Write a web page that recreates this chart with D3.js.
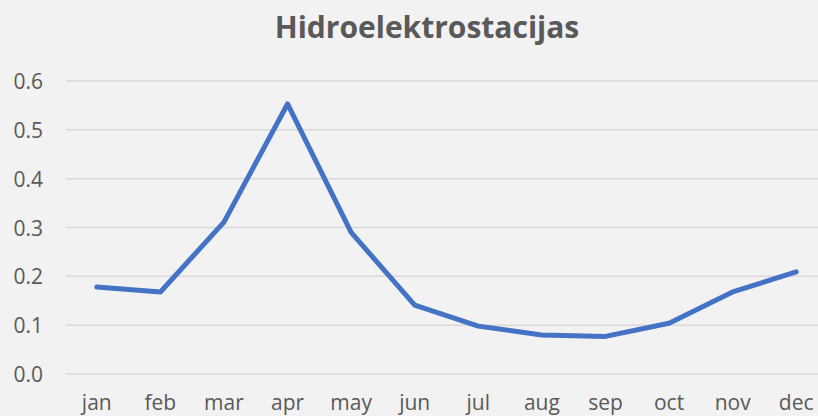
<!DOCTYPE html>
<html>
<head>
  <meta charset="utf-8">
  <script src="https://d3js.org/d3.v7.min.js"></script>
  <style>
    html, body { margin: 0; padding: 0; background: #f2f2f2; }
    svg { display: block; }
  </style>
</head>
<body>
  <script>
    // data
    var months = ["jan", "feb", "mar", "apr", "may", "jun", "jul", "aug", "sep", "oct", "nov", "dec"];
    var values = [0.178, 0.168, 0.311, 0.553, 0.290, 0.141, 0.098, 0.080, 0.077, 0.104, 0.168, 0.209];
    var yTicks = [0, 0.1, 0.2, 0.3, 0.4, 0.5, 0.6];
    var title = "Hidroelektrostacijas";

    var W = 818, H = 416;
    var svg = d3.select("body").append("svg")
      .attr("width", W).attr("height", H);

    svg.append("rect").attr("width", W).attr("height", H).attr("fill", "#f2f2f2");

    // plot area (the original chart is a bit wider than the picture, right side is cut)
    var x = d3.scaleBand().domain(months).range([65, 828]);
    var y = d3.scaleLinear().domain([0, 0.6]).range([374, 81]);

    // gridlines
    svg.append("g").selectAll("line")
      .data(yTicks)
      .enter().append("line")
      .attr("x1", 66).attr("x2", W)
      .attr("y1", function (d) { return y(d); })
      .attr("y2", function (d) { return y(d); })
      .attr("stroke", "#d9d9d9")
      .attr("stroke-width", 1.5);

    // y axis labels
    var yAxis = d3.axisLeft(y).tickValues(yTicks).tickFormat(d3.format(".1f")).tickSize(0).tickPadding(0);
    var gy = svg.append("g").attr("transform", "translate(43,0)").call(yAxis);
    gy.select(".domain").remove();
    gy.selectAll("text")
      .attr("dy", "0.36em")
      .style("font-family", "'Open Sans', sans-serif")
      .style("font-size", "21px")
      .style("fill", "#595959");

    // x axis labels
    var xAxis = d3.axisBottom(x).tickSize(0).tickPadding(0);
    var gx = svg.append("g").attr("transform", "translate(0,394)").call(xAxis);
    gx.select(".domain").remove();
    gx.selectAll("text")
      .attr("dy", "0.76em")
      .style("font-family", "'Open Sans', sans-serif")
      .style("font-size", "21px")
      .style("fill", "#595959");

    // the line
    var line = d3.line()
      .x(function (d, i) { return x(months[i]) + x.bandwidth() / 2; })
      .y(function (d) { return y(d); });

    svg.append("path")
      .datum(values)
      .attr("d", line)
      .attr("fill", "none")
      .attr("stroke", "#4472c4")
      .attr("stroke-width", 5)
      .attr("stroke-linejoin", "round")
      .attr("stroke-linecap", "round");

    // title
    svg.append("text")
      .attr("x", 427).attr("y", 38)
      .attr("text-anchor", "middle")
      .style("font-family", "'Open Sans', sans-serif")
      .style("font-weight", "bold")
      .style("font-size", "30px")
      .style("fill", "#595959")
      .text(title);
  </script>
</body>
</html>
